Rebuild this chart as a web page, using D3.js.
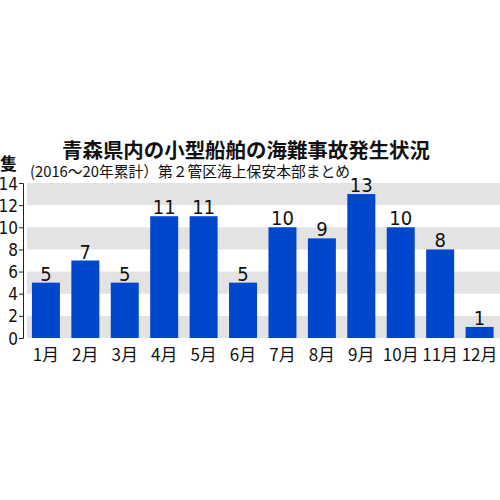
<!DOCTYPE html>
<html>
<head>
<meta charset="utf-8">
<script src="https://cdn.jsdelivr.net/npm/d3@7"></script>
<style>
  body { margin: 0; background: #fff; }
  svg text { font-family: "Noto Sans CJK JP", "Noto Sans", sans-serif; }
  .num { font-family: "DejaVu Sans", sans-serif; font-stretch: condensed; }
</style>
</head>
<body>
<div id="chart"></div>
<script>
// data
const months = ["1月", "2月", "3月", "4月", "5月", "6月", "7月", "8月", "9月", "10月", "11月", "12月"]
const counts = [5, 7, 5, 11, 11, 5, 10, 9, 13, 10, 8, 1]
const yTicks = [0, 2, 4, 6, 8, 10, 12, 14]

const title = "青森県内の小型船舶の海難事故発生状況"
const subtitle = "(2016～20年累計）第２管区海上保安本部まとめ"
const unit = "隻"

const width = 500, height = 500
const margin = {top: 183, right: 0, bottom: 162, left: 27}

const svg = d3.select("#chart")
  .append("svg")
    .attr("width", width)
    .attr("height", height)

const x = d3.scaleBand()
  .domain(months)
  .range([margin.left - 1, width - 0.5])
  .paddingInner(0.29)
  .paddingOuter(0.15)

const y = d3.scaleLinear()
  .domain([0, 14])
  .range([height - margin.bottom, margin.top])

// gray background bands
svg.append("g")
  .selectAll("rect")
  .data([0, 4, 8, 12])
  .join("rect")
    .attr("x", margin.left)
    .attr("width", width - margin.left)
    .attr("y", d => y(d + 2))
    .attr("height", d => y(d) - y(d + 2))
    .attr("fill", "#e3e3e3")

// y axis
const yAxis = svg.append("g")
  .attr("transform", `translate(23,0)`)
  .call(d3.axisLeft(y).tickValues(yTicks).tickSize(4).tickPadding(1))
yAxis.select(".domain").attr("stroke", "#222").attr("stroke-width", 1)
yAxis.selectAll(".tick line").attr("stroke", "#222")
yAxis.selectAll(".tick text")
  .attr("class", "num")
  .attr("fill", "#111")
  .style("font-size", "17px")
  .attr("dy", "0.36em")

// bars
svg.append("g")
  .selectAll("rect")
  .data(counts)
  .join("rect")
    .attr("x", (d, i) => x(months[i]))
    .attr("y", d => y(d))
    .attr("width", x.bandwidth())
    .attr("height", d => y(0) - y(d))
    .attr("fill", "#0047cc")

// value labels
svg.append("g")
  .selectAll("text")
  .data(counts)
  .join("text")
    .attr("class", "num")
    .attr("x", (d, i) => x(months[i]) + x.bandwidth() / 2)
    .attr("y", d => y(d) - 2)
    .attr("text-anchor", "middle")
    .style("font-size", "20px")
    .attr("fill", "#111")
    .text(d => d)

// month labels
svg.append("g")
  .selectAll("text")
  .data(months)
  .join("text")
    .attr("x", d => x(d) + x.bandwidth() / 2)
    .attr("y", 361)
    .attr("text-anchor", "middle")
    .style("font-size", "17px")
    .attr("fill", "#111")
    .text(d => d)

// title, subtitle, unit
svg.append("text")
  .attr("x", 62)
  .attr("y", 158)
  .attr("textLength", 368)
  .attr("lengthAdjust", "spacingAndGlyphs")
  .style("font-size", "20px")
  .style("font-weight", "bold")
  .attr("fill", "#111")
  .text(title)

svg.append("text")
  .attr("x", 30)
  .attr("y", 177)
  .attr("textLength", 320)
  .attr("lengthAdjust", "spacingAndGlyphs")
  .style("font-size", "15px")
  .attr("fill", "#111")
  .text(subtitle)

svg.append("text")
  .attr("x", 0)
  .attr("y", 170)
  .style("font-size", "17px")
  .style("font-weight", "bold")
  .attr("fill", "#111")
  .text(unit)
</script>
</body>
</html>
